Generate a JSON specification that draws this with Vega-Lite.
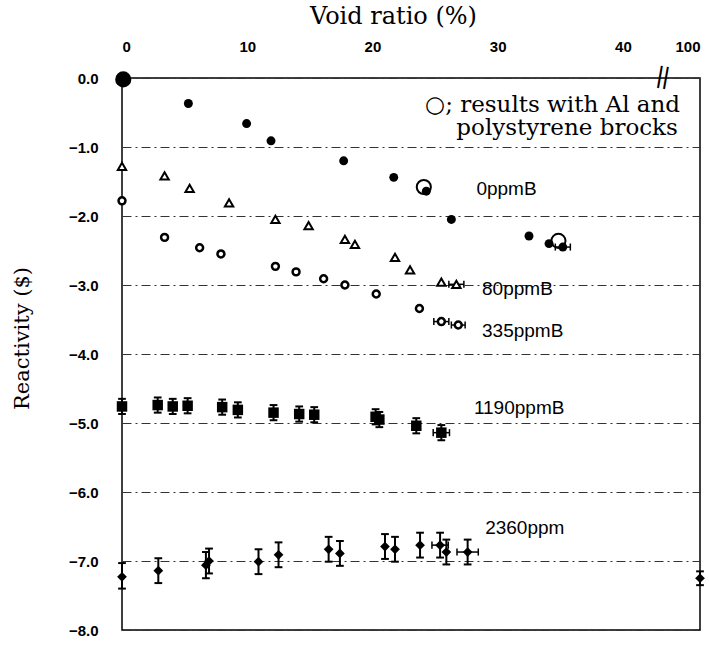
{
  "$schema": "https://vega.github.io/schema/vega-lite/v6.json",
  "width": 578,
  "height": 552,
  "autosize": {"type": "none"},
  "padding": {"left": 122, "top": 78, "right": 9, "bottom": 15},
  "background": "white",
  "config": {
    "view": {"stroke": "black", "strokeWidth": 1.5},
    "axis": {
      "labelFont": "Liberation Sans",
      "labelFontWeight": "bold",
      "labelFontSize": 15,
      "labelColor": "black",
      "titleFont": "DejaVu Serif",
      "titleFontWeight": "normal",
      "titleFontSize": 23,
      "titleColor": "black",
      "domain": false,
      "ticks": false
    }
  },
  "datasets": {
    "points": [
      {"series": "0ppmB", "x": 0, "y": 0},
      {"series": "0ppmB", "x": 5.3, "y": -0.37},
      {"series": "0ppmB", "x": 9.95, "y": -0.66},
      {"series": "0ppmB", "x": 11.9, "y": -0.91},
      {"series": "0ppmB", "x": 17.7, "y": -1.2},
      {"series": "0ppmB", "x": 21.7, "y": -1.44},
      {"series": "0ppmB", "x": 24.3, "y": -1.64},
      {"series": "0ppmB", "x": 26.3, "y": -2.05},
      {"series": "0ppmB", "x": 32.5, "y": -2.29},
      {"series": "0ppmB", "x": 34.1, "y": -2.4},
      {"series": "0ppmB", "x": 35.2, "y": -2.45, "xlo": 34.6, "xhi": 35.8},
      {"series": "80ppmB", "x": 0, "y": -1.28},
      {"series": "80ppmB", "x": 3.4, "y": -1.42},
      {"series": "80ppmB", "x": 5.4, "y": -1.6},
      {"series": "80ppmB", "x": 8.55, "y": -1.81},
      {"series": "80ppmB", "x": 12.25, "y": -2.05},
      {"series": "80ppmB", "x": 14.9, "y": -2.14},
      {"series": "80ppmB", "x": 17.8, "y": -2.34},
      {"series": "80ppmB", "x": 18.6, "y": -2.41},
      {"series": "80ppmB", "x": 21.8, "y": -2.6},
      {"series": "80ppmB", "x": 23.0, "y": -2.78},
      {"series": "80ppmB", "x": 25.5, "y": -2.96},
      {"series": "80ppmB", "x": 26.7, "y": -2.99, "xlo": 26.1, "xhi": 27.3},
      {"series": "335ppmB", "x": 0, "y": -1.78},
      {"series": "335ppmB", "x": 3.4, "y": -2.31},
      {"series": "335ppmB", "x": 6.2, "y": -2.46},
      {"series": "335ppmB", "x": 7.9, "y": -2.55},
      {"series": "335ppmB", "x": 12.25, "y": -2.73},
      {"series": "335ppmB", "x": 13.9, "y": -2.81},
      {"series": "335ppmB", "x": 16.1, "y": -2.91},
      {"series": "335ppmB", "x": 17.8, "y": -3.0},
      {"series": "335ppmB", "x": 20.3, "y": -3.13},
      {"series": "335ppmB", "x": 23.75, "y": -3.34},
      {"series": "335ppmB", "x": 25.5, "y": -3.53, "xlo": 24.9, "xhi": 26.1},
      {"series": "335ppmB", "x": 26.85, "y": -3.58, "xlo": 26.3, "xhi": 27.4},
      {"series": "1190ppmB", "x": 0, "y": -4.76, "ylo": -4.87, "yhi": -4.65},
      {"series": "1190ppmB", "x": 2.85, "y": -4.74, "ylo": -4.85, "yhi": -4.63},
      {"series": "1190ppmB", "x": 4.05, "y": -4.76, "ylo": -4.87, "yhi": -4.65},
      {"series": "1190ppmB", "x": 5.24, "y": -4.75, "ylo": -4.86, "yhi": -4.64},
      {"series": "1190ppmB", "x": 8.0, "y": -4.77, "ylo": -4.88, "yhi": -4.66},
      {"series": "1190ppmB", "x": 9.25, "y": -4.81, "ylo": -4.92, "yhi": -4.7},
      {"series": "1190ppmB", "x": 12.1, "y": -4.85, "ylo": -4.96, "yhi": -4.74},
      {"series": "1190ppmB", "x": 14.15, "y": -4.87, "ylo": -4.98, "yhi": -4.76},
      {"series": "1190ppmB", "x": 15.35, "y": -4.88, "ylo": -4.99, "yhi": -4.77},
      {"series": "1190ppmB", "x": 20.25, "y": -4.91, "ylo": -5.02, "yhi": -4.8},
      {"series": "1190ppmB", "x": 20.55, "y": -4.95, "ylo": -5.06, "yhi": -4.84},
      {"series": "1190ppmB", "x": 23.5, "y": -5.04, "ylo": -5.15, "yhi": -4.93},
      {"series": "1190ppmB", "x": 25.5, "y": -5.14, "ylo": -5.25, "yhi": -5.03, "xlo": 24.85, "xhi": 26.15},
      {"series": "2360ppm", "x": 0, "y": -7.23, "ylo": -7.4, "yhi": -7.03},
      {"series": "2360ppm", "x": 2.9, "y": -7.14, "ylo": -7.32, "yhi": -6.96},
      {"series": "2360ppm", "x": 6.7, "y": -7.06, "ylo": -7.25, "yhi": -6.87},
      {"series": "2360ppm", "x": 6.95, "y": -7.0, "ylo": -7.18, "yhi": -6.82},
      {"series": "2360ppm", "x": 10.9, "y": -7.01, "ylo": -7.19, "yhi": -6.83},
      {"series": "2360ppm", "x": 12.5, "y": -6.91, "ylo": -7.09, "yhi": -6.73},
      {"series": "2360ppm", "x": 16.5, "y": -6.83, "ylo": -7.01, "yhi": -6.65},
      {"series": "2360ppm", "x": 17.4, "y": -6.89, "ylo": -7.07, "yhi": -6.71},
      {"series": "2360ppm", "x": 21.0, "y": -6.79, "ylo": -6.97, "yhi": -6.61},
      {"series": "2360ppm", "x": 21.8, "y": -6.83, "ylo": -7.01, "yhi": -6.65},
      {"series": "2360ppm", "x": 23.8, "y": -6.77, "ylo": -6.95, "yhi": -6.59},
      {"series": "2360ppm", "x": 25.4, "y": -6.77, "ylo": -6.95, "yhi": -6.59, "xlo": 24.75, "xhi": 26.05},
      {"series": "2360ppm", "x": 25.9, "y": -6.87, "ylo": -7.05, "yhi": -6.69},
      {"series": "2360ppm", "x": 27.6, "y": -6.87, "ylo": -7.05, "yhi": -6.69, "xlo": 26.75, "xhi": 28.45},
      {"series": "2360ppm", "x": 100, "y": -7.25, "ylo": -7.35, "yhi": -7.15},
      {"series": "Al", "x": 0.1, "y": -0.02},
      {"series": "Al", "x": 24.1, "y": -1.58},
      {"series": "Al", "x": 34.85, "y": -2.36}
    ],
    "labels": [
      {"text": "0ppmB", "x": 28.3, "y": -1.61, "kind": "sans"},
      {"text": "80ppmB", "x": 28.75, "y": -3.06, "kind": "sans"},
      {"text": "335ppmB", "x": 28.75, "y": -3.67, "kind": "sans"},
      {"text": "1190ppmB", "x": 28.1, "y": -4.78, "kind": "sans"},
      {"text": "2360ppm", "x": 29.0, "y": -6.52, "kind": "sans"},
      {"text": "○; results with Al and", "x": 24.2, "y": -0.49, "kind": "serif"},
      {"text": "polystyrene brocks", "x": 26.7, "y": -0.83, "kind": "serif"},
      {"text": "||", "x": 43.2, "y": 0.02, "kind": "break"}
    ]
  },
  "encoding": {
    "x": {
      "field": "x", "type": "quantitative",
      "scale": {"domain": [0, 43.2, 100], "range": [0, 541, 578], "nice": false, "zero": false},
      "axis": {"orient": "top", "values": [0, 10, 20, 30, 40, 100], "grid": false, "title": "Void ratio (%)", "labelPadding": 24, "titleX": 271, "titleY": -55, "titleBaseline": "alphabetic", "titleAlign": "center", "titleFontSize": 24}
    },
    "y": {
      "field": "y", "type": "quantitative",
      "scale": {"domain": [-8, 0], "nice": false, "zero": false},
      "axis": {"values": [0, -1, -2, -3, -4, -5, -6, -7, -8], "format": ".1f", "grid": true, "gridColor": "#333", "gridWidth": 1, "gridDash": [9, 4, 2, 4], "title": "Reactivity ($)", "labelPadding": 24, "titleX": -100, "titleY": 260, "titleAngle": 270, "titleAlign": "center", "titleBaseline": "middle", "titleFontSize": 21}
    }
  },
  "layer": [
    {
      "data": {"name": "points"},
      "transform": [{"filter": "isValid(datum.ylo)"}],
      "mark": {"type": "rule", "color": "black", "strokeWidth": 2},
      "encoding": {"y": {"field": "ylo", "type": "quantitative"}, "y2": {"field": "yhi"}}
    },
    {
      "data": {"name": "points"},
      "transform": [{"filter": "isValid(datum.ylo)"}],
      "mark": {"type": "point", "shape": "M-1,0L1,0", "filled": false, "stroke": "black", "strokeWidth": 2, "size": 60, "opacity": 1},
      "encoding": {"y": {"field": "ylo", "type": "quantitative"}}
    },
    {
      "data": {"name": "points"},
      "transform": [{"filter": "isValid(datum.ylo)"}],
      "mark": {"type": "point", "shape": "M-1,0L1,0", "filled": false, "stroke": "black", "strokeWidth": 2, "size": 60, "opacity": 1},
      "encoding": {"y": {"field": "yhi", "type": "quantitative"}}
    },
    {
      "data": {"name": "points"},
      "transform": [{"filter": "isValid(datum.xlo)"}],
      "mark": {"type": "rule", "color": "black", "strokeWidth": 1.5},
      "encoding": {"x": {"field": "xlo", "type": "quantitative"}, "x2": {"field": "xhi"}}
    },
    {
      "data": {"name": "points"},
      "transform": [{"filter": "isValid(datum.xlo)"}],
      "mark": {"type": "point", "shape": "M0,-1L0,1", "filled": false, "stroke": "black", "strokeWidth": 1.5, "size": 50, "opacity": 1},
      "encoding": {"x": {"field": "xlo", "type": "quantitative"}}
    },
    {
      "data": {"name": "points"},
      "transform": [{"filter": "isValid(datum.xlo)"}],
      "mark": {"type": "point", "shape": "M0,-1L0,1", "filled": false, "stroke": "black", "strokeWidth": 1.5, "size": 50, "opacity": 1},
      "encoding": {"x": {"field": "xhi", "type": "quantitative"}}
    },
    {
      "data": {"name": "points"},
      "transform": [{"filter": "datum.series === 'Al' && datum.x < 1"}],
      "mark": {"type": "point", "shape": "circle", "filled": true, "color": "black", "size": 190, "opacity": 1}
    },
    {
      "data": {"name": "points"},
      "transform": [{"filter": "datum.series === '0ppmB'"}],
      "mark": {"type": "point", "shape": "circle", "filled": true, "color": "black", "size": 80, "opacity": 1}
    },
    {
      "data": {"name": "points"},
      "transform": [{"filter": "datum.series === '80ppmB'"}],
      "mark": {"type": "point", "shape": "triangle-up", "filled": true, "fill": "white", "stroke": "black", "strokeWidth": 2, "size": 70, "opacity": 1}
    },
    {
      "data": {"name": "points"},
      "transform": [{"filter": "datum.series === '335ppmB'"}],
      "mark": {"type": "point", "shape": "circle", "filled": true, "fill": "white", "stroke": "black", "strokeWidth": 2.5, "size": 48, "opacity": 1}
    },
    {
      "data": {"name": "points"},
      "transform": [{"filter": "datum.series === '1190ppmB'"}],
      "mark": {"type": "point", "shape": "square", "filled": true, "color": "black", "size": 110, "opacity": 1}
    },
    {
      "data": {"name": "points"},
      "transform": [{"filter": "datum.series === '2360ppm'"}],
      "mark": {"type": "point", "shape": "diamond", "filled": true, "color": "black", "size": 95, "opacity": 1}
    },
    {
      "data": {"name": "points"},
      "transform": [{"filter": "datum.series === 'Al'"}],
      "mark": {"type": "point", "shape": "circle", "filled": false, "stroke": "black", "strokeWidth": 2, "size": 200, "opacity": 1}
    },
    {
      "data": {"name": "labels"},
      "transform": [{"filter": "datum.kind === 'sans'"}],
      "mark": {"type": "text", "align": "left", "baseline": "middle", "font": "Liberation Sans", "fontSize": 19, "color": "black"},
      "encoding": {"text": {"field": "text"}}
    },
    {
      "data": {"name": "labels"},
      "transform": [{"filter": "datum.kind === 'serif'"}],
      "mark": {"type": "text", "align": "left", "baseline": "alphabetic", "font": "DejaVu Serif", "fontSize": 23, "color": "black"},
      "encoding": {"text": {"field": "text"}}
    },
    {
      "data": {"name": "labels"},
      "transform": [{"filter": "datum.kind === 'break'"}],
      "mark": {"type": "text", "align": "center", "baseline": "middle", "font": "Liberation Sans", "fontSize": 24, "angle": 10, "color": "black"},
      "encoding": {"text": {"field": "text"}}
    }
  ]
}
